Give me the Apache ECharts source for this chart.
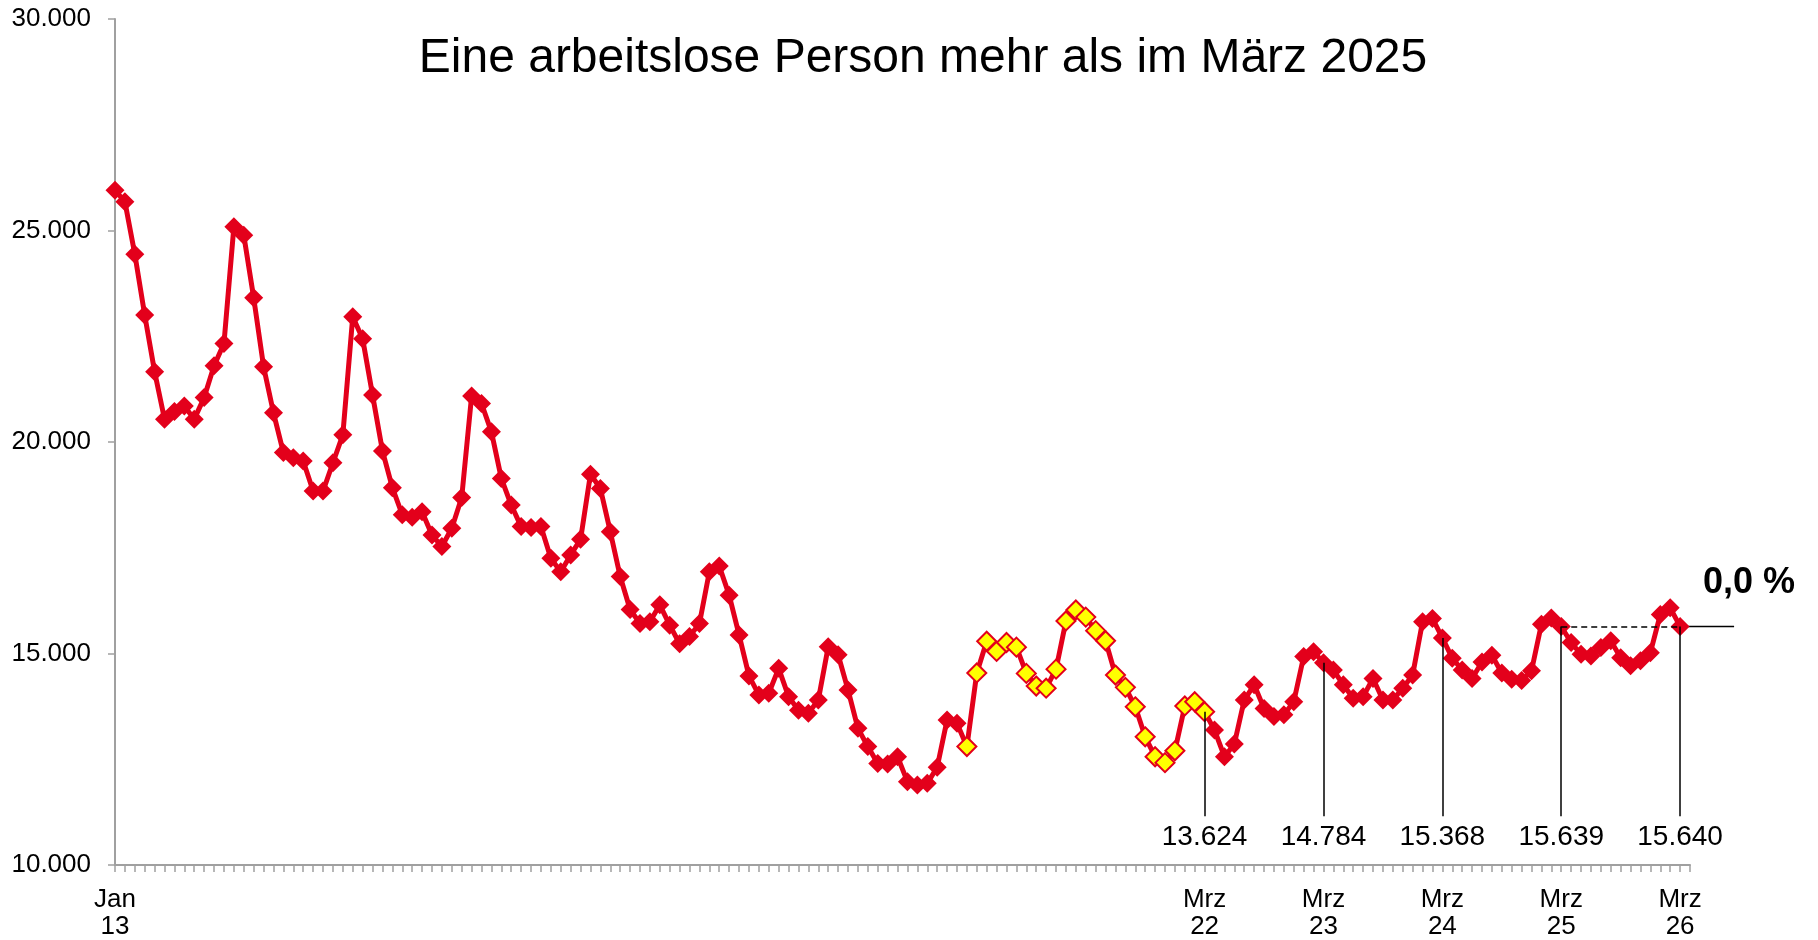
<!DOCTYPE html>
<html>
<head>
<meta charset="utf-8">
<title>Arbeitslose</title>
<script src="https://cdn.jsdelivr.net/npm/echarts@6/dist/echarts.min.js"></script>
<style>
html, body { margin: 0; padding: 0; background: #fff; }
#chart { width: 1818px; height: 940px; }
</style>
</head>
<body>
<div id="chart"></div>
<script>
// Monatswerte (Jan..Dez) je Jahr
const v2013 = [25950, 25680, 24440, 23000, 21660, 20540, 20720, 20850, 20540, 21050, 21800, 22330];
const v2014 = [25090, 24890, 23410, 21780, 20690, 19750, 19630, 19550, 18840, 18840, 19510, 20170];
const v2015 = [22960, 22440, 21110, 19790, 18920, 18280, 18220, 18350, 17800, 17530, 17960, 18690];
const v2016 = [21090, 20910, 20240, 19140, 18510, 18000, 17980, 18000, 17250, 16930, 17330, 17700];
const v2017 = [19240, 18900, 17880, 16820, 16040, 15710, 15750, 16150, 15670, 15230, 15400, 15710];
const v2018 = [16930, 17070, 16380, 15440, 14470, 14020, 14060, 14650, 13980, 13660, 13590, 13900];
const v2019 = [15160, 14970, 14140, 13230, 12800, 12400, 12390, 12560, 11970, 11890, 11930, 12310];
const v2020 = [13430, 13350, 12800, 14540, 15290, 15050, 15260, 15150, 14530, 14230, 14180, 14630];
const v2021 = [15770, 16030, 15860, 15540, 15300, 14490, 14200, 13740, 13030, 12560, 12420, 12700];
const v2022 = [13760, 13860, 13624, 13190, 12560, 12860, 13900, 14260, 13700, 13510, 13550, 13860];
const v2023 = [14930, 15040, 14784, 14610, 14260, 13940, 13980, 14410, 13900, 13900, 14180, 14490];
const v2024 = [15750, 15830, 15368, 14890, 14610, 14410, 14800, 14960, 14540, 14390, 14360, 14590];
const v2025 = [15690, 15840, 15639, 15260, 14980, 14940, 15140, 15300, 14900, 14710, 14830, 15020];
const v2026 = [15920, 16080, 15640];

const monthNames = ['Jan', 'Feb', 'Mrz', 'Apr', 'Mai', 'Jun', 'Jul', 'Aug', 'Sep', 'Okt', 'Nov', 'Dez'];
const years = ['13', '14', '15', '16', '17', '18', '19', '20', '21', '22', '23', '24', '25', '26'];
const shownLabels = ['Jan 13', 'Mrz 22', 'Mrz 23', 'Mrz 24', 'Mrz 25', 'Mrz 26'];
const markedMonths = ['Mrz 22', 'Mrz 23', 'Mrz 24', 'Mrz 25', 'Mrz 26'];
const yTicks = [10000, 15000, 20000, 25000, 30000];
const coronaFrom = 'Mrz 20', coronaTo = 'Mrz 22';   // gelbe Punkte
const compareFrom = 'Mrz 25', compareTo = 'Mrz 26';
const titleText = 'Eine arbeitslose Person mehr als im März 2025';
const changeText = '0,0 %';

const values = [].concat(v2013, v2014, v2015, v2016, v2017, v2018, v2019,
  v2020, v2021, v2022, v2023, v2024, v2025, v2026);

const categories = [];
years.forEach(y => monthNames.forEach(m => categories.push(m + ' ' + y)));
categories.length = values.length + 1; // Achse läuft einen Monat weiter

const RED = '#e3001b';
const FONT = '"Liberation Sans", Arial, sans-serif';
const leaderEnd = 11150;

function fmt(v) {
  return String(v).replace(/\B(?=(\d{3})+(?!\d))/g, '.');
}

const iCorA = categories.indexOf(coronaFrom);
const iCorB = categories.indexOf(coronaTo);
const seriesData = values.map((v, i) => {
  if (i >= iCorA && i <= iCorB) {
    return { value: v, itemStyle: { color: '#ffff00', borderColor: RED, borderWidth: 2 } };
  }
  return v;
});

const iCmpA = categories.indexOf(compareFrom);
const iCmpB = categories.indexOf(compareTo);

const markLines = markedMonths.map(m => {
  const i = categories.indexOf(m);
  return [
    { coord: [i, values[i]], label: { show: true, formatter: fmt(values[i]) } },
    { coord: [i, leaderEnd] }
  ];
});
markLines.push([
  { coord: [iCmpA, values[iCmpA]], label: { show: false }, lineStyle: { type: [6, 4] } },
  { coord: [iCmpB, values[iCmpA]] }
]);

const chart = echarts.init(document.getElementById('chart'));
chart.setOption({
  animation: false,
  backgroundColor: '#fff',
  textStyle: { fontFamily: FONT },
  grid: {
    left: 115,
    right: 128,
    top: 19,
    bottom: 75,
    containLabel: false,
    outerBoundsMode: 'none'
  },
  xAxis: {
    type: 'category',
    boundaryGap: false,
    data: categories,
    axisLine: { lineStyle: { color: '#a0a0a0', width: 2 } },
    axisTick: { show: true, interval: 0, length: 7, lineStyle: { color: '#a0a0a0', width: 1.5 } },
    axisLabel: {
      interval: (idx, val) => shownLabels.indexOf(val) >= 0,
      formatter: v => v.replace(' ', '\n'),
      color: '#000',
      fontSize: 26,
      lineHeight: 27,
      margin: 21,
      fontFamily: FONT
    },
    splitLine: { show: false }
  },
  yAxis: {
    type: 'value',
    min: yTicks[0],
    max: yTicks[yTicks.length - 1],
    interval: yTicks[1] - yTicks[0],
    axisLine: { show: true, lineStyle: { color: '#a0a0a0', width: 2 } },
    axisTick: { show: true, length: 7, lineStyle: { color: '#a0a0a0', width: 1.5 } },
    axisLabel: {
      formatter: fmt,
      color: '#000',
      fontSize: 26,
      margin: 24,
      fontFamily: FONT
    },
    splitLine: { show: false }
  },
  series: [{
    type: 'line',
    data: seriesData,
    symbol: 'diamond',
    symbolSize: 19,
    showAllSymbol: true,
    lineStyle: { color: RED, width: 5 },
    itemStyle: { color: RED, borderWidth: 0 },
    markLine: {
      silent: true,
      symbol: ['none', 'none'],
      animation: false,
      lineStyle: { color: '#000', width: 1.5, type: 'solid' },
      label: {
        position: 'end',
        distance: 7,
        color: '#000',
        fontSize: 28,
        lineHeight: 28,
        fontFamily: FONT
      },
      emphasis: { disabled: true },
      data: markLines
    }
  }]
});

// Verlängerung der Vergleichslinie und Veränderung in %
function drawExtras() {
  const p = chart.convertToPixel({ seriesIndex: 0 }, [iCmpB, values[iCmpA]]);
  chart.setOption({
    graphic: [
      {
        type: 'text',
        x: 923, y: 59,
        style: { text: titleText, fill: '#000', fontSize: 48, fontFamily: FONT, align: 'center', verticalAlign: 'middle' }
      },
      {
        type: 'line',
        shape: { x1: p[0], y1: p[1], x2: p[0] + 54, y2: p[1] },
        style: { stroke: '#000', lineWidth: 1.5 }
      },
      {
        type: 'text',
        x: p[0] + 69, y: p[1] - 43,
        style: { text: changeText, fill: '#000', fontSize: 36, fontWeight: 'bold', fontFamily: FONT, align: 'center', verticalAlign: 'middle' }
      }
    ]
  });
}
drawExtras();

window.addEventListener('resize', () => {
  chart.resize();
  drawExtras();
});
</script>
</body>
</html>
